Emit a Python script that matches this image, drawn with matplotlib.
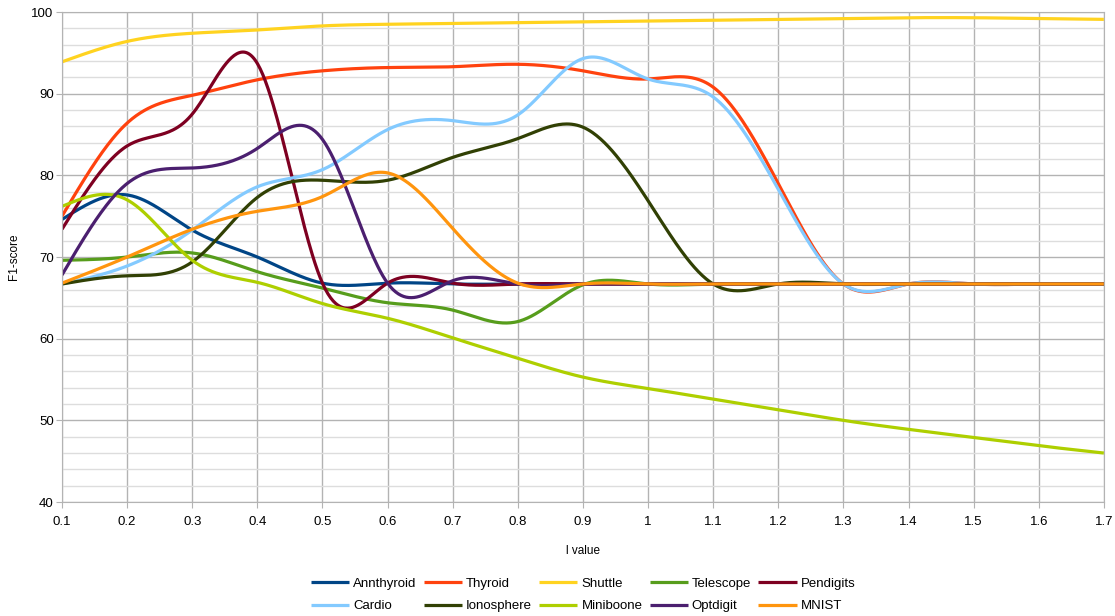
import numpy as np
import matplotlib
matplotlib.use("Agg")
import matplotlib.pyplot as plt
from matplotlib.ticker import MultipleLocator

plt.rcParams['font.family'] = ['Liberation Sans', 'DejaVu Sans']

l_values = [0.1, 0.2, 0.3, 0.4, 0.5, 0.6, 0.7, 0.8, 0.9, 1.0, 1.1, 1.2, 1.3, 1.4, 1.5, 1.6, 1.7]

annthyroid = [74.6, 77.6, 73.3, 70.0, 66.8, 66.8, 66.7, 66.7, 66.7, 66.7, 66.7, 66.7, 66.7, 66.7, 66.7, 66.7, 66.7]
thyroid = [75.0, 86.4, 89.8, 91.7, 92.8, 93.2, 93.3, 93.6, 92.8, 91.8, 90.8, 79.0, 66.7, 66.7, 66.7, 66.7, 66.7]
shuttle = [93.9, 96.4, 97.4, 97.8, 98.3, 98.5, 98.6, 98.7, 98.8, 98.9, 99.0, 99.1, 99.2, 99.3, 99.3, 99.2, 99.1]
telescope = [69.6, 70.0, 70.5, 68.2, 66.2, 64.4, 63.5, 62.1, 66.6, 66.7, 66.7, 66.7, 66.7, 66.7, 66.7, 66.7, 66.7]
pendigits = [73.4, 83.6, 87.5, 93.7, 66.8, 66.8, 66.8, 66.7, 66.7, 66.7, 66.7, 66.7, 66.7, 66.7, 66.7, 66.7, 66.7]
cardio = [66.7, 68.9, 73.3, 78.6, 80.7, 85.6, 86.7, 87.4, 94.3, 91.8, 89.6, 78.3, 66.7, 66.7, 66.7, 66.7, 66.7]
ionosphere = [66.7, 67.7, 69.4, 77.3, 79.4, 79.4, 82.2, 84.5, 85.9, 76.9, 66.7, 66.7, 66.7, 66.7, 66.7, 66.7, 66.7]
miniboone = [76.2, 77.0, 69.6, 66.9, 64.3, 62.5, 60.1, 57.6, 55.3, 53.9, 52.6, 51.3, 50.0, 48.9, 47.9, 46.9, 46.0]
optdigit = [67.8, 79.0, 80.9, 83.3, 84.4, 66.8, 67.1, 66.7, 66.7, 66.7, 66.7, 66.7, 66.7, 66.7, 66.7, 66.7, 66.7]
mnist = [66.8, 70.0, 73.4, 75.6, 77.4, 80.3, 73.5, 66.8, 66.7, 66.7, 66.7, 66.7, 66.7, 66.7, 66.7, 66.7, 66.7]

series = [
    ("Annthyroid", annthyroid, "#004586"),
    ("Thyroid", thyroid, "#ff420e"),
    ("Shuttle", shuttle, "#ffd320"),
    ("Telescope", telescope, "#579d1c"),
    ("Pendigits", pendigits, "#7e0021"),
    ("Cardio", cardio, "#83caff"),
    ("Ionosphere", ionosphere, "#314004"),
    ("Miniboone", miniboone, "#aecf00"),
    ("Optdigit", optdigit, "#4b1f6f"),
    ("MNIST", mnist, "#ff950e"),
]


def natural_spline(x, y, xs):
    # natural cubic spline, like the office "cubic spline" smoothing
    x = np.asarray(x, float)
    y = np.asarray(y, float)
    n = len(x)
    h = np.diff(x)
    A = np.zeros((n, n))
    b = np.zeros(n)
    A[0, 0] = 1
    A[-1, -1] = 1
    for i in range(1, n - 1):
        A[i, i - 1] = h[i - 1]
        A[i, i] = 2 * (h[i - 1] + h[i])
        A[i, i + 1] = h[i]
        b[i] = 6 * ((y[i + 1] - y[i]) / h[i] - (y[i] - y[i - 1]) / h[i - 1])
    m = np.linalg.solve(A, b)
    idx = np.clip(np.searchsorted(x, xs) - 1, 0, n - 2)
    x0, x1 = x[idx], x[idx + 1]
    hh = x1 - x0
    t0 = x1 - xs
    t1 = xs - x0
    return (m[idx] * t0 ** 3 / (6 * hh) + m[idx + 1] * t1 ** 3 / (6 * hh)
            + (y[idx] / hh - m[idx] * hh / 6) * t0
            + (y[idx + 1] / hh - m[idx + 1] * hh / 6) * t1)


fig = plt.figure(figsize=(11.15, 6.16), dpi=100)
ax = fig.add_axes([0.0556, 0.185, 0.9344, 0.7955])

xs = np.linspace(l_values[0], l_values[-1], 800)
lines = []
for name, vals, color in series:
    ln, = ax.plot(xs, natural_spline(l_values, vals, xs), color=color, lw=2.3, label=name,
                  solid_capstyle='butt')
    lines.append(ln)

ax.set_xlim(0.1, 1.7)
ax.set_ylim(40, 100)
ax.xaxis.set_major_locator(MultipleLocator(0.1))
ax.yaxis.set_major_locator(MultipleLocator(10))
ax.yaxis.set_minor_locator(MultipleLocator(2))
ax.set_xticklabels([f"{v:g}" for v in ax.get_xticks()])
ax.grid(which='major', color='#b3b3b3', lw=1)
ax.grid(which='minor', axis='y', color='#dddddd', lw=1)
ax.set_axisbelow(True)
for s in ax.spines.values():
    s.set_color('#b3b3b3')
ax.tick_params(which='major', length=4, color='#b3b3b3', labelsize=9.5, pad=2)
ax.tick_params(which='minor', length=0)
ax.tick_params(axis='x', pad=6)

ax.set_xlabel("l value", fontsize=8.5, labelpad=12)
ax.set_ylabel("F1-score", fontsize=8.5, labelpad=8)

# legend fills column-wise, so reorder to read row by row
order = [0, 5, 1, 6, 2, 7, 3, 8, 4, 9]
fig.legend([lines[i] for i in order], [series[i][0] for i in order],
           loc='lower center', bbox_to_anchor=(0.523, -0.013), ncol=5, frameon=False,
           fontsize=9.5, handlelength=2.9, columnspacing=0.55, handletextpad=0.3,
           labelspacing=0.75)

fig.savefig("out.png", dpi=100)
